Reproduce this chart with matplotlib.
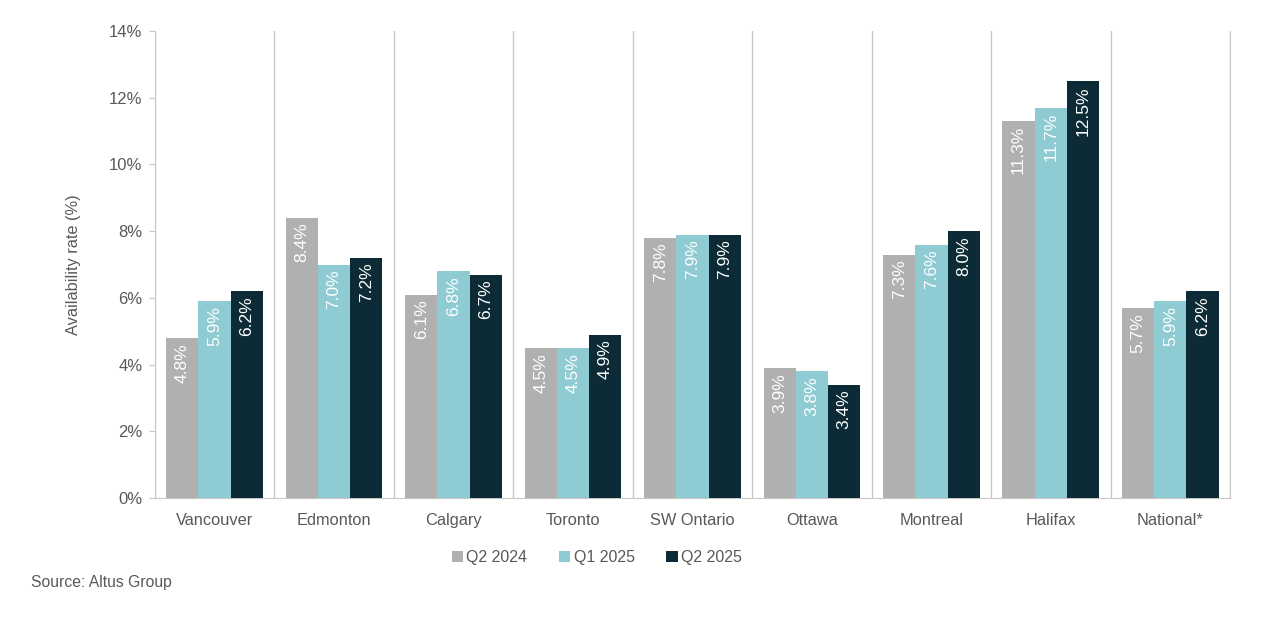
import numpy as np
import matplotlib.pyplot as plt
import matplotlib as mpl

mpl.rcParams['font.family'] = ['Liberation Sans', 'DejaVu Sans']

markets = ['Vancouver', 'Edmonton', 'Calgary', 'Toronto', 'SW Ontario',
           'Ottawa', 'Montreal', 'Halifax', 'National*']
q2_2024 = [4.8, 8.4, 6.1, 4.5, 7.8, 3.9, 7.3, 11.3, 5.7]
q1_2025 = [5.9, 7.0, 6.8, 4.5, 7.9, 3.8, 7.6, 11.7, 5.9]
q2_2025 = [6.2, 7.2, 6.7, 4.9, 7.9, 3.4, 8.0, 12.5, 6.2]
series_names = ['Q2 2024', 'Q1 2025', 'Q2 2025']
colors = ['#b0b0b0', '#8ecbd3', '#0c2b36']
yticks = np.arange(0, 15, 2)

text_col = '#595959'
grid_col = '#c8c8c8'

fig = plt.figure(figsize=(12.8, 6.23), dpi=100)
ax = fig.add_axes([0.121, 0.2006, 0.84, 0.7496])

x = np.arange(len(markets))
w = 0.27
for i, (vals, name, c) in enumerate(zip([q2_2024, q1_2025, q2_2025], series_names, colors)):
    pos = x + (i - 1) * w
    ax.bar(pos, vals, width=w, color=c, label=name, zorder=3)
    for p, v in zip(pos, vals):
        ax.text(p, v - 0.15, '%.1f%%' % v, rotation=90, ha='center', va='top',
                color='white', fontsize=12.5, zorder=4)

ax.set_xlim(-0.5, len(markets) - 0.5)
ax.set_ylim(0, 14)
ax.set_yticks(yticks)
ax.set_yticklabels(['%d%%' % t for t in yticks])
ax.set_xticks(x)
ax.set_xticklabels(markets)
ax.set_xticks(np.arange(-0.5, len(markets)), minor=True)
ax.tick_params(axis='x', which='both', length=0, labelsize=11.8, colors=text_col, pad=11)
ax.tick_params(axis='y', length=4, color=grid_col, labelsize=12, colors=text_col, pad=5)
ax.grid(axis='x', which='minor', color=grid_col, linewidth=1, zorder=1)
ax.set_ylabel('Availability rate (%)', fontsize=11.8, color=text_col, labelpad=20)

for s in ['top']:
    ax.spines[s].set_visible(False)
for s in ['left', 'bottom', 'right']:
    ax.spines[s].set_color(grid_col)

ax.legend(loc='upper center', bbox_to_anchor=(0.411, -0.08), ncol=3, frameon=False,
          fontsize=11.5, handlelength=0.7, handleheight=0.7, handletextpad=0.2,
          columnspacing=2.0, labelcolor=text_col)

fig.text(0.024, 0.058, 'Source: Altus Group', fontsize=11.3, color=text_col)

fig.savefig('out.png', dpi=100)
